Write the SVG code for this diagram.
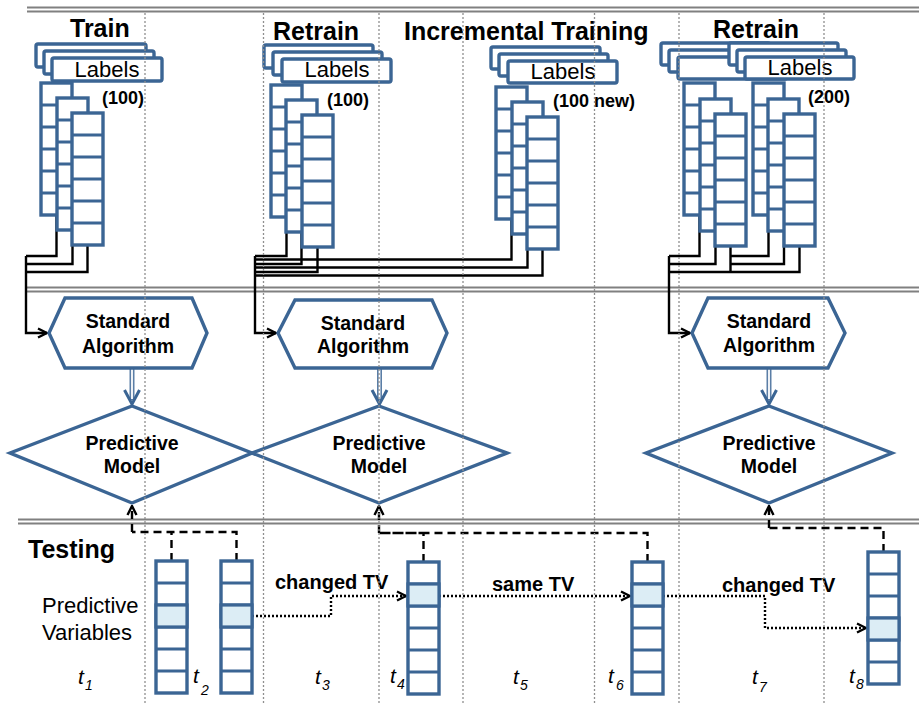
<svg xmlns="http://www.w3.org/2000/svg" xmlns:xlink="http://www.w3.org/1999/xlink" width="919" height="703" viewBox="0 0 919 703">
<style>
.bg{fill:#fff}
.sep{stroke:#808080;stroke-width:1.8;fill:none}
.vd{stroke:#8f8f8f;stroke-width:1.3;stroke-dasharray:2 2;fill:none}
.lb{fill:#fff;stroke:#3b6594;stroke-width:3.4}
.col rect{fill:#fff;stroke:#3b6594;stroke-width:3.4}
.col path{stroke:#3b6594;stroke-width:3.2;fill:none}
.hl{fill:#dcedf5;stroke:#3b6594;stroke-width:3.2}
.sh{fill:none;stroke:#3b6594;stroke-width:3.4;stroke-linejoin:miter}
.wire{fill:none;stroke:#000;stroke-width:2.4}
.dash{fill:none;stroke:#000;stroke-width:2.4;stroke-dasharray:8 5}
.dot{fill:none;stroke:#000;stroke-width:2.4;stroke-dasharray:2 2}
.t{font-family:"Liberation Sans",Arial,sans-serif;fill:#000}
.h{font-size:25px;font-weight:bold}
.n{font-size:18px;font-weight:bold}
.lbl{font-size:22px}
.s{font-size:19.5px;font-weight:bold;text-anchor:middle}
.tv{font-size:20px;font-weight:bold}
.ti{font-size:21px;font-style:italic}
.sub{font-size:14px;font-style:italic}
</style>
<defs>
<g id="vcol" class="col"><rect x="0" y="0" width="31" height="132"/><path d="M0 22h31M0 44h31M0 66h31M0 88h31M0 110h31"/></g>
<marker id="ah" viewBox="0 0 12 12" refX="11" refY="6" markerWidth="12" markerHeight="12" markerUnits="userSpaceOnUse" orient="auto"><path d="M2 1.5 L11 6 L2 10.5" fill="none" stroke="#000" stroke-width="2.4"/></marker>
</defs>
<rect class="bg" x="0" y="0" width="919" height="703"/>

<g id="separators">
<path class="sep" d="M27 7.5H919M27 11.5H919"/>
<path class="sep" d="M27 287.5H919M27 291.5H919"/>
<path class="sep" d="M18 519.5H919M18 523.5H919"/>
</g>

<g id="headings" class="t h">
<text x="70" y="37">Train</text>
<text x="273" y="40">Retrain</text>
<text x="404" y="40">Incremental Training</text>
<text x="713" y="38">Retrain</text>
<text x="28" y="558">Testing</text>
</g>

<g id="connectors">
<path class="wire" d="M56.5 215V256H26M72.5 230V264H26M87.5 245V272H26"/>
<path class="wire" d="M26 256V333H47" marker-end="url(#ah)"/>
<path class="wire" d="M286.5 217V256H255M301.5 232V264H255M317.5 247V272H255"/>
<path class="wire" d="M511.5 219V259.5H255M527.5 234V267.5H255M542.5 249V275.5H255"/>
<path class="wire" d="M255 256V333H276" marker-end="url(#ah)"/>
<path class="wire" d="M699.5 215V256H669M715.5 231V264H669M730.5 246V272H669M768.5 215V256H730M784 231V264H730M799.5 246V272H730"/>
<path class="wire" d="M669 256V333H690" marker-end="url(#ah)"/>
<g id="dbl1"><path d="M132 368V400" stroke="#5b7ea6" stroke-width="5"/><path d="M132 368V399" stroke="#fff" stroke-width="1.8"/><polyline points="124.5,390 132,404 139.5,390" fill="none" stroke="#3b6594" stroke-width="3"/></g>
<g id="dbl2"><path d="M379.5 368V400" stroke="#5b7ea6" stroke-width="5"/><path d="M379.5 368V399" stroke="#fff" stroke-width="1.8"/><polyline points="372,390 379.5,404 387,390" fill="none" stroke="#3b6594" stroke-width="3"/></g>
<g id="dbl3"><path d="M769 368V400" stroke="#5b7ea6" stroke-width="5"/><path d="M769 368V399" stroke="#fff" stroke-width="1.8"/><polyline points="761.5,390 769,404 776.5,390" fill="none" stroke="#3b6594" stroke-width="3"/></g>
<path class="dash" d="M171.5 561V532H132M236.5 561V532H132"/>
<path class="wire" d="M132 532V506" marker-end="url(#ah)" stroke-dasharray="8 5"/>
<path class="dash" d="M423.5 562V533H379M647.5 562V533H379"/>
<path class="wire" d="M379 533V506" marker-end="url(#ah)" stroke-dasharray="8 5"/>
<path class="dash" d="M883.5 552V528H769"/>
<path class="wire" d="M769 528V506" marker-end="url(#ah)" stroke-dasharray="8 5"/>
<path class="dot" d="M252 616H331V596H406" marker-end="url(#ah)"/>
<path class="dot" d="M439 596H630" marker-end="url(#ah)"/>
<path class="dot" d="M663 596H765V628H866" marker-end="url(#ah)"/>
</g>

<g id="train-data">
<rect class="lb" x="36" y="44" width="110" height="23" rx="2"/>
<rect class="lb" x="44" y="51" width="110" height="23" rx="2"/>
<rect class="lb" x="52" y="58" width="110" height="23" rx="2"/>
<text class="t lbl" x="107" y="77" text-anchor="middle">Labels</text>
<use xlink:href="#vcol" x="41" y="83"/>
<use xlink:href="#vcol" x="57" y="98"/>
<use xlink:href="#vcol" x="72" y="113"/>
<text class="t n" x="102" y="104">(100)</text>
</g>

<g id="retrain1-data">
<rect class="lb" x="264" y="45" width="109" height="23" rx="2"/>
<rect class="lb" x="273" y="52" width="109" height="23" rx="2"/>
<rect class="lb" x="282" y="59" width="109" height="23" rx="2"/>
<text class="t lbl" x="337" y="77" text-anchor="middle">Labels</text>
<use xlink:href="#vcol" x="271" y="85"/>
<use xlink:href="#vcol" x="286" y="100"/>
<use xlink:href="#vcol" x="302" y="115"/>
<text class="t n" x="327" y="106">(100)</text>
</g>

<g id="incremental-data">
<rect class="lb" x="491" y="47" width="109" height="22" rx="2"/>
<rect class="lb" x="499" y="54" width="109" height="22" rx="2"/>
<rect class="lb" x="508" y="61" width="109" height="22" rx="2"/>
<text class="t lbl" x="563" y="79" text-anchor="middle">Labels</text>
<use xlink:href="#vcol" x="496" y="87"/>
<use xlink:href="#vcol" x="512" y="102"/>
<use xlink:href="#vcol" x="527" y="117"/>
<text class="t n" x="553" y="107">(100 new)</text>
</g>

<g id="retrain2-data">
<rect class="lb" x="661" y="43" width="109" height="22" rx="2"/>
<rect class="lb" x="669" y="50" width="109" height="22" rx="2"/>
<rect class="lb" x="678" y="57" width="109" height="22" rx="2"/>
<rect class="lb" x="729" y="43" width="109" height="22" rx="2"/>
<rect class="lb" x="737" y="50" width="109" height="22" rx="2"/>
<rect class="lb" x="745" y="57" width="109" height="22" rx="2"/>
<text class="t lbl" x="800" y="75" text-anchor="middle">Labels</text>
<use xlink:href="#vcol" x="684" y="83"/>
<use xlink:href="#vcol" x="700" y="99"/>
<use xlink:href="#vcol" x="715" y="114"/>
<use xlink:href="#vcol" x="753" y="83"/>
<use xlink:href="#vcol" x="768" y="99"/>
<use xlink:href="#vcol" x="784" y="114"/>
<text class="t n" x="808" y="103">(200)</text>
</g>

<g id="algo1"><polygon class="sh" points="49,333 65,298 192,298 207,333 192,368 65,368"/><text class="t s" x="128" y="328">Standard</text><text class="t s" x="128" y="353">Algorithm</text></g>
<g id="algo2"><polygon class="sh" points="278,333 295,300 432,300 447,333 432,368 295,368"/><text class="t s" x="363" y="330">Standard</text><text class="t s" x="363" y="353">Algorithm</text></g>
<g id="algo3"><polygon class="sh" points="692,333 708,298 828,298 845,333 828,368 708,368"/><text class="t s" x="769" y="328">Standard</text><text class="t s" x="769" y="352">Algorithm</text></g>

<g id="model1"><polygon class="sh" points="132,406 252,453 132,503 10,453"/><text class="t s" x="132" y="450">Predictive</text><text class="t s" x="132" y="473">Model</text></g>
<g id="model2"><polygon class="sh" points="379,406 507,453 379,503 252,453"/><text class="t s" x="379" y="450">Predictive</text><text class="t s" x="379" y="473">Model</text></g>
<g id="model3"><polygon class="sh" points="769,406 892,453 769,503 646,453"/><text class="t s" x="769" y="450">Predictive</text><text class="t s" x="769" y="473">Model</text></g>

<g id="pv-label" class="t lbl"><text x="42" y="613">Predictive</text><text x="42" y="640">Variables</text></g>

<g id="test-t2a"><use xlink:href="#vcol" x="156" y="561"/><rect class="hl" x="156" y="605" width="31" height="22"/></g>
<g id="test-t2b"><use xlink:href="#vcol" x="221" y="561"/><rect class="hl" x="221" y="605" width="31" height="22"/></g>
<g id="test-t4"><use xlink:href="#vcol" x="408" y="562"/><rect class="hl" x="408" y="584" width="31" height="22"/></g>
<g id="test-t6"><use xlink:href="#vcol" x="632" y="562"/><rect class="hl" x="632" y="584" width="31" height="22"/></g>
<g id="test-t8"><use xlink:href="#vcol" x="868" y="552"/><rect class="hl" x="868" y="618" width="31" height="22"/></g>

<g id="tv-labels" class="t tv">
<text x="275" y="589">changed TV</text>
<text x="492" y="591">same TV</text>
<text x="722" y="592">changed TV</text>
</g>

<g id="times" class="t">
<text class="ti" x="78" y="684">t</text><text class="sub" x="85" y="690">1</text>
<text class="ti" x="193" y="683">t</text><text class="sub" x="201" y="695">2</text>
<text class="ti" x="315" y="684">t</text><text class="sub" x="322" y="690">3</text>
<text class="ti" x="390" y="683">t</text><text class="sub" x="397" y="689">4</text>
<text class="ti" x="513" y="684">t</text><text class="sub" x="520" y="690">5</text>
<text class="ti" x="608" y="683">t</text><text class="sub" x="616" y="690">6</text>
<text class="ti" x="752" y="684">t</text><text class="sub" x="759" y="692">7</text>
<text class="ti" x="849" y="683">t</text><text class="sub" x="856" y="689">8</text>
</g>

<g id="timelines">
<path class="vd" d="M145 13V703M263.5 13V703M379 13V703M463 13V703M594.5 13V703M679 13V703M824 13V703"/>
</g>
</svg>
